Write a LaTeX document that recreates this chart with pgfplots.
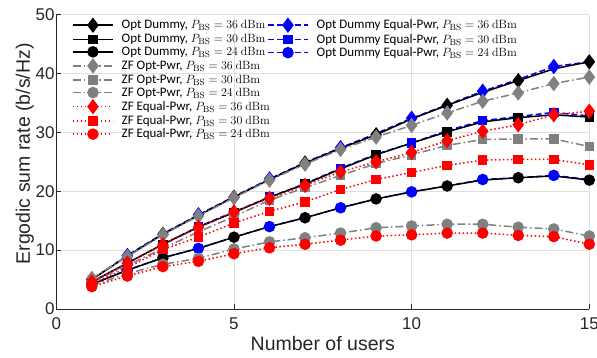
\documentclass[border=0pt]{standalone}
\usepackage[no-math]{fontspec}
\setmainfont{Liberation Sans}
\newfontfamily\legfont{Carlito}
\usepackage{pgfplots}
\usepackage{pgfplotstable}
\pgfplotsset{compat=1.18}
\definecolor{axcol}{RGB}{38,38,38}
\definecolor{gridcol}{RGB}{223,223,223}
\definecolor{zfgray}{RGB}{128,128,128}

\pgfplotstableread{
x od36 ode36 zfo36 zfe36 od30 ode30 zfo30 zfe30 od24 ode24 zfo24 zfe24
1  5.0  5.0  5.2  4.6  4.6  4.6  4.5  4.3  4.2  4.2  4.0  3.8
2  9.0  9.1  8.9  7.8  7.8  7.8  7.4  7.0  6.6  6.6  6.0  5.6
3  12.7 12.8 12.6 10.9 11.0 11.0 10.3 10.1 8.7  8.7  7.6  7.2
4  15.9 16.0 15.8 13.9 13.9 14.0 13.1 12.2 10.3 10.3 8.6  8.1
5  19.0 19.1 18.9 16.5 16.4 16.5 15.7 14.6 12.2 12.2 10.2 9.4
6  22.0 22.1 21.9 18.8 19.0 19.0 18.5 16.6 14.0 14.0 11.4 10.4
7  24.8 24.9 24.6 21.0 21.2 21.3 20.6 18.2 15.5 15.5 12.1 11.0
8  27.3 27.4 27.1 23.3 23.8 23.9 22.7 20.3 17.2 17.2 12.9 11.7
9  29.6 29.8 29.2 25.0 26.2 26.3 24.7 22.0 18.7 18.7 13.8 12.4
10 32.3 32.4 31.2 26.6 28.2 28.2 26.2 23.2 19.9 19.9 14.1 12.6
11 34.6 34.7 33.3 28.6 30.1 30.3 27.8 24.4 20.9 20.9 14.4 12.9
12 36.8 37.0 35.3 30.2 31.8 32.0 28.8 25.3 21.9 22.0 14.4 12.9
13 38.8 39.0 36.7 31.3 32.5 32.7 28.9 25.4 22.3 22.3 13.9 12.5
14 40.8 41.2 38.3 33.0 33.0 33.4 28.9 25.4 22.6 22.7 13.6 12.3
15 42.0 42.0 39.4 33.6 32.6 32.8 27.6 24.5 21.9 22.0 12.4 11.0
}\datatable

\pgfplotsset{
 od/.style={black, solid, line width=1.5bp},
 ode/.style={blue, dash pattern=on 6bp off 3bp, line width=1.5bp},
 zfo/.style={zfgray, dash pattern=on 8bp off 3bp on 1.5bp off 3bp, line width=1.5bp},
 zfe/.style={red, dash pattern=on 1.5bp off 2.5bp, line width=1.5bp},
 m36/.style={mark=diamond*, mark size=6.5bp, mark options={solid}},
 m30/.style={mark=square*, mark size=4bp, mark options={solid}},
 m24/.style={mark=*, mark size=5bp, mark options={solid}},
 mylegend/.style={
  legend cell align=left,
  legend image code/.code={\draw[mark repeat=2, mark phase=2, ##1] plot coordinates {(0bp,0bp) (20bp,0bp) (40bp,0bp)};},
  legend style={anchor=north west,
    draw=none, fill=none, inner sep=0pt,
    font=\legfont\fontsize{13bp}{15bp}\selectfont,
    nodes={inner sep=0pt},
    row sep=2.6bp, column sep=8bp},
 },
}

\begin{document}
\begin{tikzpicture}
\useasboundingbox (-56.3bp,-49bp) rectangle (540.7bp,309bp);
\begin{axis}[
  scale only axis, width=533bp, height=294.3bp,
  xmin=0, xmax=15, ymin=0, ymax=50,
  xtick={0,5,10,15}, xticklabels={0,5,10,15},
  ytick={0,10,20,30,40,50}, yticklabels={0,10,20,30,40,50},
  axis x line*=bottom, axis y line*=left,
  axis line style={axcol, line width=0.8bp},
  tick style={axcol, line width=0.8bp},
  major tick length=5bp,
  tick align=inside,
  grid=major, major grid style={gridcol, line width=0.8bp},
  ticklabel style={font=\fontsize{17bp}{20bp}\selectfont, text=axcol},
  xticklabel style={yshift=-5.5bp},
  yticklabel style={xshift=1.7bp},
  xlabel={Number of users}, ylabel={Ergodic sum rate (b/s/Hz)},
  every axis x label/.style={at={(axis description cs:0.5,0)}, anchor=base, yshift=-41bp,
    font=\fontsize{19.5bp}{23bp}\selectfont, text=axcol},
  every axis y label/.style={at={(axis description cs:0,0.5)}, xshift=-26.3bp, yshift=8bp, rotate=90, anchor=base,
    font=\fontsize{19.5bp}{23bp}\selectfont, text=axcol},
  mylegend,
  legend style={at={(axis description cs:0,1)}, xshift=15.7bp, yshift=-3.8bp},
]
% legend entries (first column)
\addlegendimage{od,m36}\addlegendentry{Opt Dummy, $P_{\mathrm{BS}} = 36\ \mathrm{dBm}$}
\addlegendimage{od,m30}\addlegendentry{Opt Dummy, $P_{\mathrm{BS}} = 30\ \mathrm{dBm}$}
\addlegendimage{od,m24}\addlegendentry{Opt Dummy, $P_{\mathrm{BS}} = 24\ \mathrm{dBm}$}
\addlegendimage{zfo,m36}\addlegendentry{ZF Opt-Pwr, $P_{\mathrm{BS}} = 36\ \mathrm{dBm}$}
\addlegendimage{zfo,m30}\addlegendentry{ZF Opt-Pwr, $P_{\mathrm{BS}} = 30\ \mathrm{dBm}$}
\addlegendimage{zfo,m24}\addlegendentry{ZF Opt-Pwr, $P_{\mathrm{BS}} = 24\ \mathrm{dBm}$}
\addlegendimage{zfe,m36}\addlegendentry{ZF Equal-Pwr, $P_{\mathrm{BS}} = 36\ \mathrm{dBm}$}
\addlegendimage{zfe,m30}\addlegendentry{ZF Equal-Pwr, $P_{\mathrm{BS}} = 30\ \mathrm{dBm}$}
\addlegendimage{zfe,m24}\addlegendentry{ZF Equal-Pwr, $P_{\mathrm{BS}} = 24\ \mathrm{dBm}$}
% data
\addplot[ode,m36,mark repeat=2,mark phase=2,forget plot] table[x=x,y=ode36]{\datatable};
\addplot[ode,m30,mark repeat=2,mark phase=2,forget plot] table[x=x,y=ode30]{\datatable};
\addplot[ode,m24,mark repeat=2,mark phase=2,forget plot] table[x=x,y=ode24]{\datatable};
\addplot[od,m36,mark repeat=2,mark phase=1,forget plot] table[x=x,y=od36]{\datatable};
\addplot[od,m30,mark repeat=2,mark phase=1,forget plot] table[x=x,y=od30]{\datatable};
\addplot[od,m24,mark repeat=2,mark phase=1,forget plot] table[x=x,y=od24]{\datatable};
\addplot[zfo,m36,forget plot] table[x=x,y=zfo36]{\datatable};
\addplot[zfo,m30,forget plot] table[x=x,y=zfo30]{\datatable};
\addplot[zfo,m24,forget plot] table[x=x,y=zfo24]{\datatable};
\addplot[zfe,m36,forget plot] table[x=x,y=zfe36]{\datatable};
\addplot[zfe,m30,forget plot] table[x=x,y=zfe30]{\datatable};
\addplot[zfe,m24,forget plot] table[x=x,y=zfe24]{\datatable};
\end{axis}
\begin{axis}[
  scale only axis, width=533bp, height=294.3bp,
  xmin=0, xmax=15, ymin=0, ymax=50,
  hide axis,
  mylegend,
  legend style={at={(axis description cs:0,1)}, xshift=210.7bp, yshift=-3.8bp},
]
\addlegendimage{ode,m36}\addlegendentry{Opt Dummy Equal-Pwr, $P_{\mathrm{BS}} = 36\ \mathrm{dBm}$}
\addlegendimage{ode,m30}\addlegendentry{Opt Dummy Equal-Pwr, $P_{\mathrm{BS}} = 30\ \mathrm{dBm}$}
\addlegendimage{ode,m24}\addlegendentry{Opt Dummy Equal-Pwr, $P_{\mathrm{BS}} = 24\ \mathrm{dBm}$}
\end{axis}
\end{tikzpicture}
\end{document}
